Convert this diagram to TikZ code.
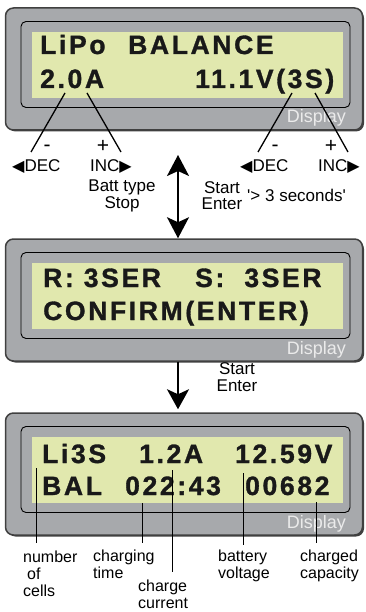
\documentclass[tikz,border=0pt]{standalone}
\usepackage{fontspec}
\setmainfont{Liberation Sans}
\newfontfamily\lcdfont[LetterSpace=10,FakeBold=1.2]{Liberation Sans}
\newfontfamily\plainfont[Ligatures=ResetAll]{Liberation Sans}
\newfontfamily\symfont{DejaVu Sans}
\usetikzlibrary{arrows.meta}
\usetikzlibrary{positioning}

\definecolor{casegray}{HTML}{A7A9AC}
\definecolor{lcdgreen}{HTML}{E1E8AE}

\tikzset{
  panel/.style={draw=black!75, line width=1.5pt, fill=casegray, rounded corners=8pt,
    minimum width=357pt, minimum height=122pt, inner sep=0pt},
  frame/.style={draw=black, line width=0.9pt, fill=casegray, rounded corners=5pt,
    minimum width=329pt, minimum height=86pt, inner sep=0pt},
  lcd/.style={fill=lcdgreen, minimum width=311pt, minimum height=66pt, inner sep=0pt},
  lcdtext/.style={anchor=base west, inner sep=0pt, text=black!90,
    font=\lcdfont\bfseries\fontsize{26.5}{26}\selectfont},
  disp/.style={anchor=base east, inner sep=0pt, text=black!8,
    font=\fontsize{18}{18}\selectfont},
  lbl/.style={inner sep=0pt, font=\fontsize{17}{17}\selectfont},
  sign/.style={inner sep=0pt, font=\fontsize{21}{21}\selectfont},
  note/.style={inner sep=0pt, align=left, anchor=base west, font=\fontsize{16}{17}\selectfont},
  pointer/.style={line width=1.3pt},
  bigarrow/.style={line width=2pt, {Stealth[length=21pt,width=22pt,inset=5pt]}-{Stealth[length=21pt,width=22pt,inset=5pt]}},
  downarrow/.style={line width=2pt, -{Stealth[length=20pt,width=22pt,inset=5pt]}}
}
\newcommand{\lefttri}{{\symfont\fontsize{16}{16}\selectfont ◀}}
\newcommand{\righttri}{{\symfont\fontsize{16}{16}\selectfont ▶}}

\begin{document}
\begin{tikzpicture}[x=1pt,y=-1pt]
\useasboundingbox (0,0) rectangle (366,612);

% three displays
\foreach \n/\y in {1/69,2/300,3/474}{
  \fill[black!75, rounded corners=8pt] (7.5,\y-59) rectangle (364,\y+62.5);
  \node[panel] (p\n) at (184,\y) {};
  \node[frame] (f\n) at (185.5,\y-4.5) {};
  \node[lcd] (l\n) at (187,\y-4) {};
}
\node[disp] (d1) at (346,123) {Display};
\node[disp] (d2) at (346,354) {Display};
\node[disp] (d3) at (346,528) {Display};

% first display
\node[lcdtext] (lipo) at (40,54) {LiPo};
\node[lcdtext] (bal) at (128,54) {BALANCE};
\node[lcdtext] (amp) at (40,88) {2.0A};
\node[lcdtext] (volt) at (195,88) {11.1V(3S)};

\coordinate (a1) at (65,93);
\coordinate (a2) at (87,93);
\coordinate (v1) at (292,93);
\coordinate (v2) at (315,93);
\coordinate (b1) at (31,152);
\coordinate (b2) at (121,152);
\coordinate (w1) at (258,152);
\coordinate (w2) at (348,152);
\draw[pointer] (a1) -- (b1);
\draw[pointer] (a2) -- (b2);
\draw[pointer] (v1) -- (w1);
\draw[pointer] (v2) -- (w2);

\node[sign] (m1) at (47,148) {-};
\node[sign] (pl1) at (103,146) {+};
\node[lbl, anchor=base west] (dec1) at (12,172) {\lefttri DEC};
\node[lbl, anchor=base west] (inc1) at (90,172) {INC\righttri};
\node[sign] (m2) at (275,148) {-};
\node[sign] (pl2) at (331,146) {+};
\node[lbl, anchor=base west] (dec2) at (240,172) {\lefttri DEC};
\node[lbl, anchor=base west] (inc2) at (318,172) {INC\righttri};

\node[lbl, align=center, anchor=base] (batt) at (122,208) {Batt type\\Stop};
\node[lbl, align=center, anchor=base] (start1) at (222,210) {Start\\Enter};
\node[lbl, anchor=base west] (secs) at (247,202) {\plainfont '> 3 seconds'};

% arrows between displays
\coordinate (up) at (178,155);
\draw[bigarrow] (up) -- (up |- p2.north);
\draw[downarrow] (up |- p2.south) -- ([yshift=3pt]up |- p3.north);
\node[lbl, align=center, anchor=base] (start2) at (237,391) {Start\\Enter};

% second display
\node[lcdtext] (rser) at (43,287) {R: 3SER};
\node[lcdtext] (sser) at (195,287) {S:\ \ 3SER};
\node[lcdtext] (conf) at (43,320) {CONFIRM(ENTER)};

% third display
\node[lcdtext] (li) at (42,463) {Li3S};
\node[lcdtext] (cur) at (139,463) {1.2A};
\node[lcdtext] (bv) at (235,463) {12.59V};
\node[lcdtext] (balt) at (42,495) {BAL};
\node[lcdtext] (time) at (125,495) {022:43};
\node[lcdtext] (cap) at (245,495) {00682};

\foreach \x/\t/\b in {36/468/543, 142/503/543, 172/470/572, 243/473/545, 316/502/543}
  \draw[line width=1pt] (\x,\t) -- (\x,\b);

\node[note] (ncells) at (23,596) {number\\\hspace{4pt}of\\cells};
\node[note] (ntime) at (93,578) {charging\\time};
\node[note] (ncur) at (138,608) {charge\\current};
\node[note] (nvolt) at (218,578) {battery\\voltage};
\node[note] (ncap) at (300,578) {charged\\capacity};
\end{tikzpicture}
\end{document}
